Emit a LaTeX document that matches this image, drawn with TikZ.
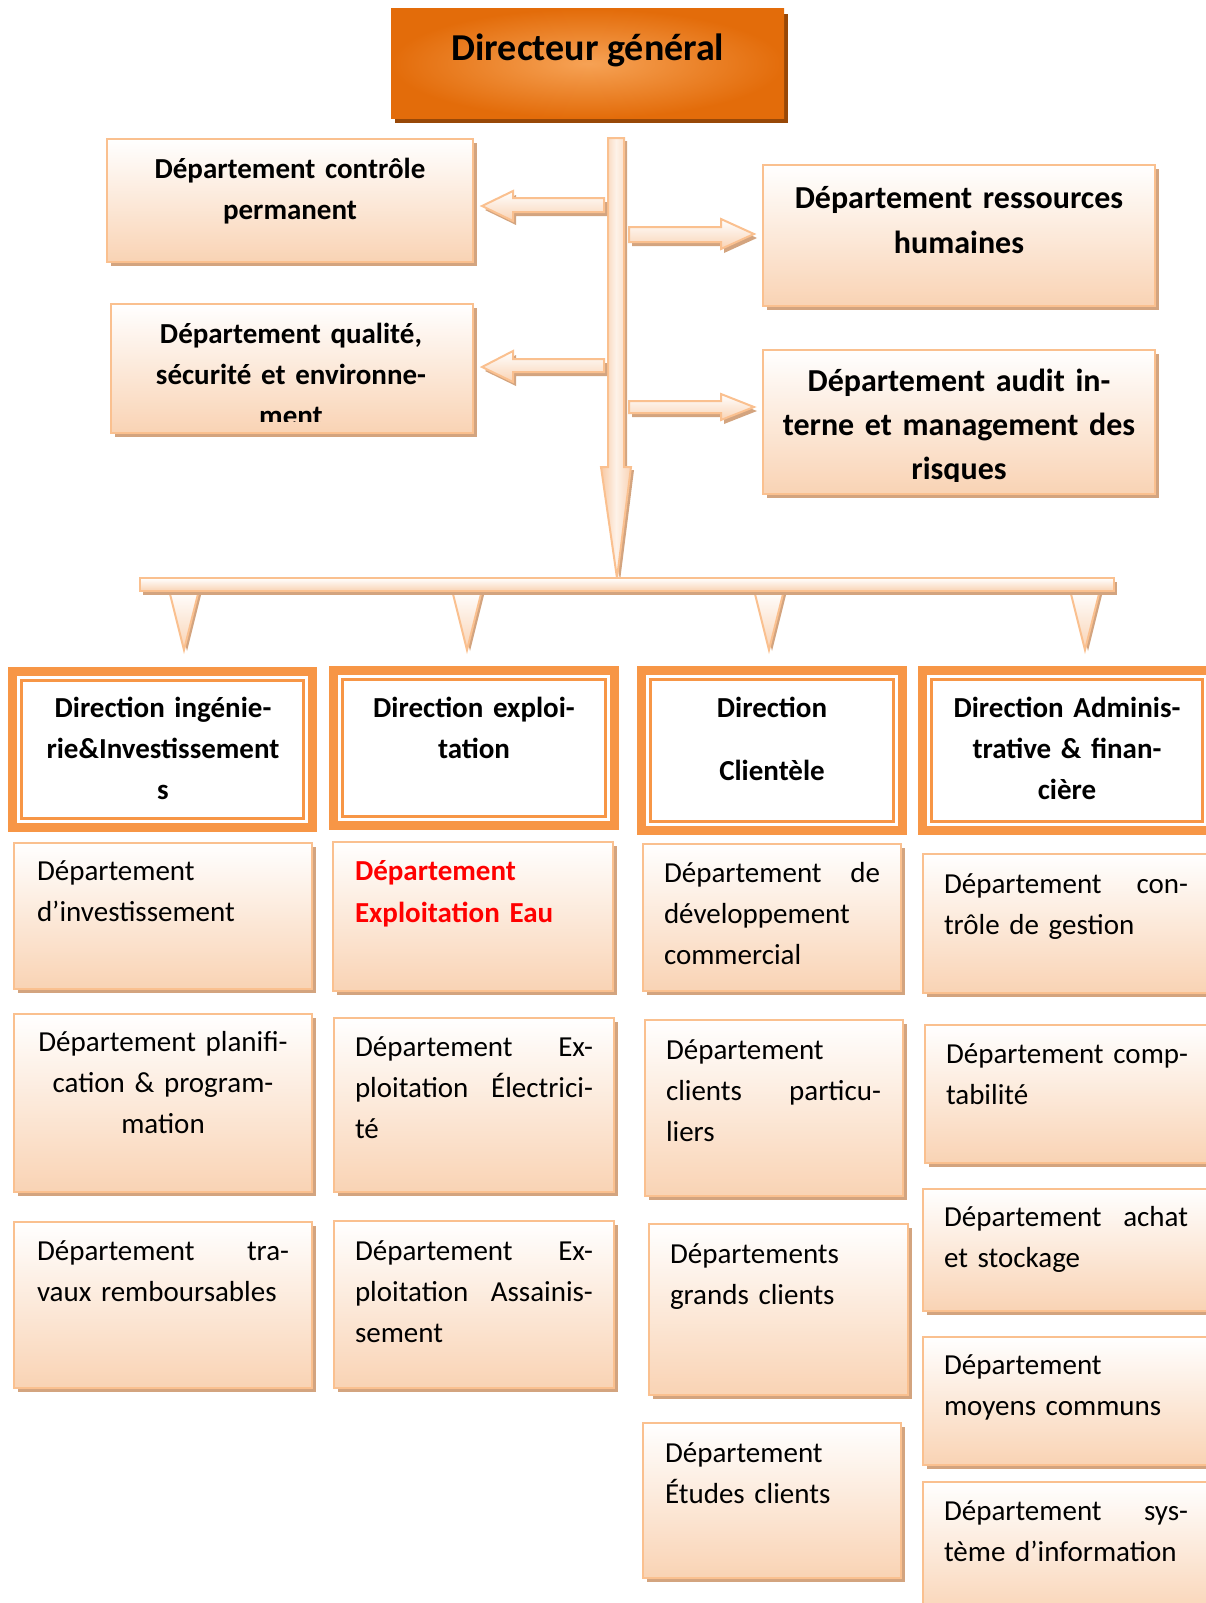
\documentclass[tikz,border=0pt]{standalone}
\usepackage{fontspec}
\setmainfont{Carlito}
\usetikzlibrary{shadows}

\definecolor{dgorange}{HTML}{E36C0A}
\definecolor{dglight}{HTML}{F6A255}
\definecolor{dgshadow}{HTML}{984807}
\definecolor{boxline}{HTML}{FAC08F}
\definecolor{peach}{HTML}{F9D3B4}
\definecolor{peachdk}{HTML}{F8C9A3}
\definecolor{shadowtan}{HTML}{D3A47F}
\definecolor{dirorange}{HTML}{F79646}
\definecolor{redtext}{HTML}{FF0000}

\newcommand\ts{\rule{0pt}{30pt}}
% justified two-word line of a given width
\newcommand\jl[3]{\leavevmode\hbox to #1{#2\hfill #3}}

\tikzset{
  every node/.style={inner sep=0pt, outer sep=0pt},
  tanshadow/.style={drop shadow={shadow xshift=4pt, shadow yshift=-4pt, fill=shadowtan, opacity=1}},
  deptbox/.style={draw=boxline, line width=2.5pt, top color=white, bottom color=peach, tanshadow},
  dgbox/.style={inner color=dglight, outer color=dgorange,
    drop shadow={shadow xshift=4pt, shadow yshift=-5pt, fill=dgshadow, opacity=1}},
  arrowshape/.style={draw=boxline, line width=2pt, top color=white, bottom color=peach,
    drop shadow={shadow xshift=3pt, shadow yshift=-4pt, fill=shadowtan, opacity=1}},
  trunkshape/.style={draw=boxline, line width=2pt, left color=peachdk, right color=peach, middle color=white!70!peach,
    drop shadow={shadow xshift=3pt, shadow yshift=-3pt, fill=shadowtan, opacity=1}},
  barshape/.style={draw=boxline, line width=2pt, top color=white, bottom color=peach,
    drop shadow={shadow xshift=3pt, shadow yshift=-4pt, fill=shadowtan, opacity=1}},
  tipshape/.style={draw=boxline, line width=2pt, top color=white, bottom color=peach,
    drop shadow={shadow xshift=3pt, shadow yshift=-1pt, fill=shadowtan, opacity=1}},
  bodytxt/.style={anchor=north west, align=left, text width=#1, font=\fontsize{29}{41}\selectfont},
  ctrtxt/.style={anchor=north, align=center, text width=#1, font=\fontsize{29}{41}\selectfont},
  headtxt/.style={anchor=north, align=center, text width=#1, font=\bfseries\fontsize{29}{41}\selectfont},
  bigtxt/.style={anchor=north, align=center, text width=#1, font=\bfseries\fontsize{32}{44}\selectfont},
}

% light department box: name, x1, y1, x2, y2 (y measured downwards)
\newcommand\deptnode[5]{%
  \pgfmathsetmacro\bxw{#4-#2}\pgfmathsetmacro\bxh{#5-#3}%
  \node[deptbox, minimum width=\bxw pt, minimum height=\bxh pt, anchor=north west] (#1) at (#2,-#3) {};}

% direction box with thick orange frame and thin inner line
\newcommand\dirnode[5]{%
  \pgfmathsetmacro\bxw{#4-#2}\pgfmathsetmacro\bxh{#5-#3}%
  \node[fill=dirorange, minimum width=\bxw pt, minimum height=\bxh pt, anchor=north west] (#1) at (#2,-#3) {};
  \fill[white] (#2+9,-#3-9) rectangle (#4-9,-#5+9);
  \draw[dirorange, line width=2.5pt] (#2+13.5,-#3-13.5) rectangle (#4-13.5,-#5+13.5);}

\begin{document}
\begin{tikzpicture}[x=1pt,y=1pt]
\useasboundingbox (0,0) rectangle (1206,-1603);
\clip (0,0) rectangle (1206,-1603);

% ---------- general manager ----------
\node[dgbox, minimum width=393pt, minimum height=109pt, anchor=north west] (dg) at (391,-9) {};
\node[font=\bfseries\fontsize{38}{46}\selectfont, anchor=base] (dgtxt) at (588,-61) {Directeur général};

% ---------- vertical trunk arrow ----------
\path[trunkshape] (608,-138) -- (624,-138) -- (624,-467) -- (631,-467) -- (617,-578)
  -- (601,-467) -- (608,-467) -- cycle;

% ---------- side arrows ----------
\path[arrowshape] (482,-206) -- (513,-191) -- (513,-198) -- (604,-198) -- (604,-212)
  -- (513,-212) -- (513,-221) -- cycle;
\path[arrowshape] (482,-367) -- (513,-351) -- (513,-359) -- (604,-359) -- (604,-372)
  -- (513,-372) -- (513,-382) -- cycle;
\path[arrowshape] (754,-234) -- (721,-219) -- (721,-227) -- (629,-227) -- (629,-242)
  -- (721,-242) -- (721,-249) -- cycle;
\path[arrowshape] (754,-407) -- (721,-394) -- (721,-401) -- (629,-401) -- (629,-413)
  -- (721,-413) -- (721,-420) -- cycle;

% ---------- staff departments ----------
\deptnode{ctrl}{107}{139}{473}{262}
\node[headtxt=360pt] (ctrltxt) at (290,-178+30) {\ts Département contrôle\\permanent};

\deptnode{qse}{111}{304}{473}{433}
\begin{scope}
  \clip (111,-304) rectangle (473,-421);
  \node[headtxt=360pt] (qsetxt) at (291,-343+30) {\ts Département qualité,\\sécurité et environne-\\ment};
\end{scope}

\deptnode{rh}{763}{165}{1155}{306}
\node[bigtxt=390pt, font=\bfseries\fontsize{32}{45}\selectfont] (rhtxt) at (959,-208+30) {\ts Département ressources\\humaines};

\deptnode{audit}{763}{350}{1155}{494}
\begin{scope}
  \clip (763,-350) rectangle (1155,-481);
  \node[bigtxt=390pt] (audittxt) at (959,-391+30) {\ts Département audit in-\\terne et management des\\risques};
\end{scope}

% ---------- horizontal distribution bar ----------
\foreach \cx/\nm in {184/tipa,467/tipb,769/tipc,1085/tipd}
  \path[tipshape] (\cx-15,-590) -- (\cx+15,-590) -- (\cx,-650) -- cycle;
\path[barshape] (140,-578) rectangle (1114,-591);

% ---------- directions ----------
\dirnode{dir1}{8}{667}{317}{832}
\node[headtxt=290pt] (dir1txt) at (163,-717+30) {\ts Direction ingénie-\\rie\&Investissement\\s};

\dirnode{dir2}{329}{666}{619}{830}
\node[headtxt=280pt] (dir2txt) at (474,-717+30) {\ts Direction exploi-\\tation};

\dirnode{dir3}{637}{666}{907}{835}
\node[headtxt=260pt] (dir3txt) at (772,-717+30) {\ts Direction\\[22pt]Clientèle};

\dirnode{dir4}{918}{666}{1216}{835}
\node[headtxt=290pt] (dir4txt) at (1067,-717+30) {\ts Direction Adminis-\\trative \& finan-\\cière};

% ---------- column 1 ----------
\deptnode{c1a}{14}{843}{312}{989}
\node[bodytxt=262pt] (c1atxt) at (37,-880+30) {\ts Département\\d’investissement};
\deptnode{c1b}{14}{1014}{312}{1192}
\node[ctrtxt=290pt] (c1btxt) at (163,-1051+30) {\ts Département planifi-\\cation \& program-\\mation};
\deptnode{c1c}{14}{1222}{312}{1388}
\node[bodytxt=262pt] (c1ctxt) at (37,-1260+30) {\ts\jl{252pt}{Département}{tra-}\\vaux remboursables};

% ---------- column 2 ----------
\deptnode{c2a}{333}{842}{613}{991}
\node[bodytxt=250pt, text=redtext, font=\bfseries\fontsize{29}{42}\selectfont] (c2atxt) at (355,-880+30) {\ts Département\\Exploitation Eau};
\deptnode{c2b}{334}{1018}{614}{1192}
\node[bodytxt=250pt] (c2btxt) at (355,-1056+30) {\ts\jl{238pt}{Département}{Ex-}\\\jl{238pt}{ploitation}{Électrici-}\\té};
\deptnode{c2c}{334}{1221}{614}{1388}
\node[bodytxt=250pt] (c2ctxt) at (355,-1260+30) {\ts\jl{238pt}{Département}{Ex-}\\\jl{238pt}{ploitation}{Assainis-}\\sement};

% ---------- column 3 ----------
\deptnode{c3a}{643}{844}{901}{991}
\node[bodytxt=230pt] (c3atxt) at (664,-882+30) {\ts\jl{216pt}{Département}{de}\\développement\\commercial};
\deptnode{c3b}{645}{1020}{903}{1196}
\node[bodytxt=230pt] (c3btxt) at (666,-1059+30) {\ts Département\\\jl{215pt}{clients}{particu-}\\liers};
\deptnode{c3c}{649}{1224}{908}{1395}
\node[bodytxt=230pt] (c3ctxt) at (670,-1263+30) {\ts Départements\\grands clients};
\deptnode{c3d}{643}{1423}{901}{1578}
\node[bodytxt=230pt] (c3dtxt) at (665,-1462+30) {\ts Département\\Études clients};

% ---------- column 4 ----------
\deptnode{c4a}{923}{854}{1225}{993}
\node[bodytxt=255pt] (c4atxt) at (944,-893+30) {\ts\jl{244pt}{Département}{con-}\\trôle de gestion};
\deptnode{c4b}{925}{1025}{1225}{1163}
\node[bodytxt=255pt] (c4btxt) at (946,-1063+30) {\ts\jl{242pt}{Département}{comp-}\\tabilité};
\deptnode{c4c}{923}{1189}{1225}{1311}
\node[bodytxt=255pt] (c4ctxt) at (944,-1226+30) {\ts\jl{244pt}{Département}{achat}\\et stockage};
\deptnode{c4d}{923}{1337}{1225}{1465}
\node[bodytxt=255pt] (c4dtxt) at (944,-1374+30) {\ts Département\\moyens communs};
\deptnode{c4e}{923}{1482}{1225}{1620}
\node[bodytxt=255pt] (c4etxt) at (944,-1520+30) {\ts\jl{244pt}{Département}{sys-}\\tème d’information};

\end{tikzpicture}
\end{document}
